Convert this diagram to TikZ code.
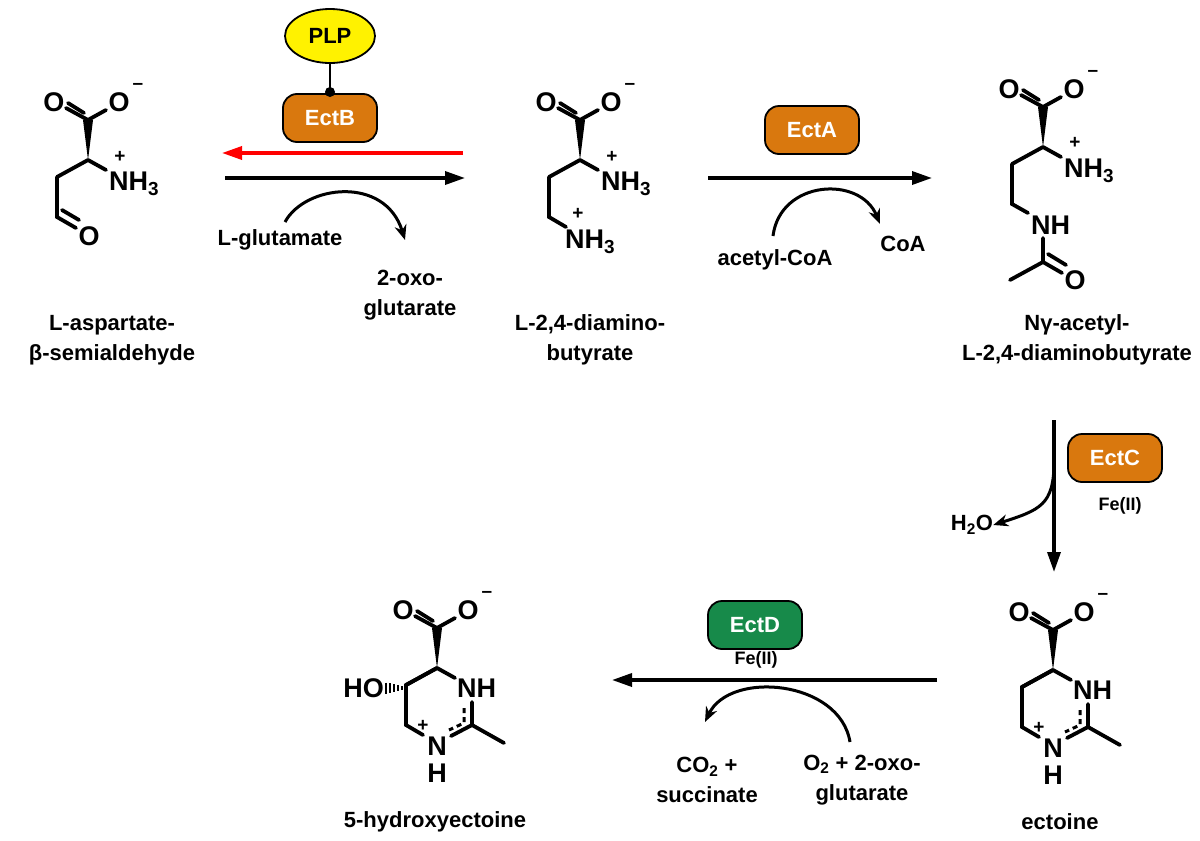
\documentclass[tikz,border=0pt]{standalone}
\usepackage{fontspec}
\setmainfont{Liberation Sans}
\usetikzlibrary{arrows.meta,shapes.geometric}
\definecolor{eorange}{HTML}{D9780E}
\definecolor{egreen}{HTML}{178A4A}
\begin{document}
\begin{tikzpicture}[x=1pt,y=-1pt,
  bond/.style={line width=3.8pt,line cap=round},
  atom/.style={font=\fontsize{27}{28}\bfseries\selectfont,inner sep=0pt},
  chg/.style={font=\fontsize{19}{19}\bfseries\selectfont,inner sep=0pt},
  lab/.style={font=\fontsize{22}{30}\bfseries\selectfont,align=center,inner sep=0pt},
  small/.style={font=\fontsize{18}{18}\bfseries\selectfont,inner sep=0pt},
  rx/.style={line width=3.4pt,-{Triangle[length=20pt,width=13pt]}},
  cv/.style={line width=3pt,-{Stealth[length=15pt,width=12pt]}},
  enz/.style={draw=black,line width=1.8pt,rounded corners=14pt,minimum width=94pt,minimum height=48pt,font=\fontsize{22}{24}\bfseries\selectfont,text=white}]
\useasboundingbox (0,0) rectangle (1200,841);
\newcommand{\head}[2]{%
 \begin{scope}[shift={(#1,#2)}]
  \fill (0,0) -- (-5,-40) -- (5,-40) -- cycle;
  \draw[bond] (0,-40) -- (-22,-52);
  \draw[bond] (-4,-47) -- (-20,-57);
  \draw[bond] (0,-40) -- (18,-50);
  \node[atom] at (-34,-58) {O};
  \node[atom] at (31,-58) {O};
  \node[chg] at (50,-74) {--};
  \draw[bond] (0,0) -- (-31,17);
 \end{scope}}
% ---- structure 1
\head{88}{160}
\draw[bond] (88,160) -- (106,170);
\node[atom,anchor=west] (n1) at (109,184) {NH\textsubscript{3}};
\node[chg] at (120,157) {+};
\draw[bond] (57,177) -- (57,217) -- (76,228);
\draw[bond] (62,210) -- (79,220);
\node[atom] at (89,236) {O};
% ---- structure 2
\head{580}{160}
\draw[bond] (580,160) -- (598,170);
\node[atom,anchor=west] (n2) at (601,184) {NH\textsubscript{3}};
\node[chg] at (612,157) {+};
\draw[bond] (549,177) -- (549,217) -- (566,227);
\node[atom,anchor=west] at (565,242) {NH\textsubscript{3}};
\node[chg] at (578,214) {+};
% ---- structure 3
\head{1043}{147}
\draw[bond] (1043,147) -- (1061,157);
\node[atom,anchor=west] at (1064,171) {NH\textsubscript{3}};
\node[chg] at (1075,143) {+};
\draw[bond] (1012,164) -- (1012,204) -- (1028,213);
\node[atom,anchor=west] at (1031,225) {NH};
\draw[bond] (1043,238) -- (1043,262) -- (1010,280);
\draw[bond] (1043,262) -- (1062,273);
\draw[bond] (1048,254) -- (1066,265);
\node[atom] at (1075,280) {O};
% ---- ectoine ring
\newcommand{\ring}[2]{%
 \begin{scope}[shift={(#1,#2)}]
  \draw[bond] (0,0) -- (-31,17) -- (-31,57) -- (-14,67);
  \draw[bond] (0,0) -- (18,10);
  \node[atom,anchor=west] at (20,20) {NH};
  \node[atom] at (0,78) {N};
  \node[atom] at (0,105) {H};
  \node[chg] at (-14,58) {+};
  \draw[bond] (35,34) -- (35,57) -- (14,68);
  \draw[bond,line width=3pt,line cap=butt,dash pattern=on 5pt off 4pt] (27,40) -- (27,55) -- (12,62);
  \draw[bond] (35,57) -- (67,75);
 \end{scope}}
\head{1053}{670}
\ring{1053}{670}
\head{437}{668}
\ring{437}{668}
\foreach \i in {0,...,5} {\draw[line width=1.8pt] ({406-\i*4},{688-1-\i*0.9}) -- ++(0,{2+\i*1.8});}
\node[atom,anchor=east] at (384,688) {HO};
% ---- labels
\node[lab] at (112,340) {L-aspartate-\\β-semialdehyde};
\node[lab] at (280,240) {L-glutamate};
\node[lab] at (410,295) {2-oxo-\\glutarate};
\node[lab] at (590,340) {L-2,4-diamino-\\butyrate};
\node[lab] at (1077,340) {Nγ-acetyl-\\L-2,4-diaminobutyrate};
\node[lab] at (775,260) {acetyl-CoA};
\node[lab] at (903,244) {CoA};
\node[lab] (h2o) at (972,525) {H\textsubscript{2}O};
\node[lab] at (1060,822) {ectoine};
\node[lab] at (435,822) {5-hydroxyectoine};
\node[lab] at (707,780) {CO\textsubscript{2} +\\succinate};
\node[lab] at (862,780) {O\textsubscript{2} + 2-oxo-\\glutarate};
\node[small] at (1120,506) {Fe(II)};
\node[small] at (756,660) {Fe(II)};
% ---- enzymes
\node[draw=black,line width=1.8pt,ellipse,fill=yellow,minimum width=90pt,minimum height=54pt,font=\fontsize{22}{24}\bfseries\selectfont] (plp) at (330,36) {PLP};
\node[enz,fill=eorange] (ectb) at (330,118) {EctB};
\draw[line width=2.4pt] (plp.south) -- (330,92);
\fill (330,92) circle (5pt);
\node[enz,fill=eorange] (ecta) at (812,130) {EctA};
\node[enz,fill=eorange] (ectc) at (1115,458) {EctC};
\node[enz,fill=egreen] (ectd) at (755,625) {EctD};
% ---- arrows
\coordinate (r1) at (463,153); \coordinate (r2) at (222,153);
\draw[rx,red] (r1) -- (r2);
\coordinate (a1) at (225,178); \coordinate (a2) at (465,178);
\draw[rx] (a1) -- (a2);
\draw[cv] (285,222) .. controls (305,185) and (385,175) .. (405,240);
\coordinate (b1) at (708,178); \coordinate (b2) at (932,178);
\draw[rx] (b1) -- (b2);
\draw[cv] (773,236) .. controls (780,180) and (860,175) .. (880,224);
\coordinate (c1) at (1054,420); \coordinate (c2) at (1054,572);
\draw[rx] (c1) -- (c2);
\draw[cv] (1054,462) .. controls (1054,505) and (1040,510) .. (h2o.east);
\coordinate (d1) at (937,680); \coordinate (d2) at (612,680);
\draw[rx] (d1) -- (d2);
\draw[cv] (850,742) .. controls (840,680) and (730,670) .. (705,722);
\end{tikzpicture}
\end{document}
